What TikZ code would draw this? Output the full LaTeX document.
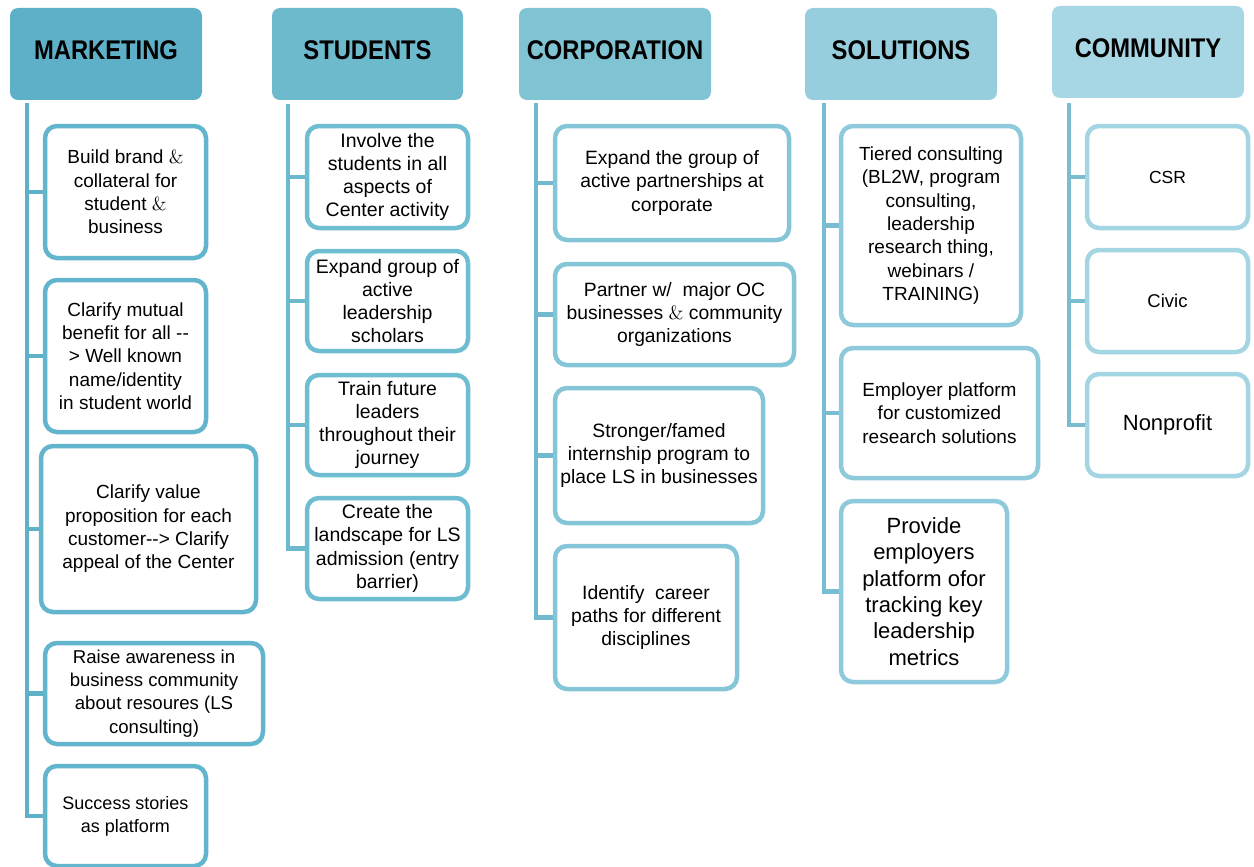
\documentclass[tikz,border=0pt]{standalone}
\usepackage{fontspec}
\setmainfont{Liberation Sans}
\newfontfamily\hdfont[FakeStretch=0.88]{Liberation Sans}
\newfontfamily\lmfont{lmroman10-regular.otf}
\newcommand{\amp}{{\lmfont\&}}
\newcommand{\fs}[2]{\fontsize{#1}{#2}\selectfont}
\definecolor{hdM}{HTML}{5DB0C8}
\definecolor{hdS}{HTML}{6DBACD}
\definecolor{hdC}{HTML}{80C3D3}
\definecolor{hdO}{HTML}{96CEDE}
\definecolor{hdK}{HTML}{A7D7E4}
\definecolor{bdM}{HTML}{62B5CC}
\definecolor{bdS}{HTML}{6EBDD1}
\definecolor{bdC}{HTML}{84C5D7}
\definecolor{bdO}{HTML}{8ECADB}
\definecolor{bdK}{HTML}{A4D5E2}
\definecolor{lnM}{HTML}{5FB1C8}
\definecolor{lnS}{HTML}{6CB9CD}
\definecolor{lnC}{HTML}{72B9CF}
\definecolor{lnO}{HTML}{78BDD1}
\definecolor{lnK}{HTML}{7ABCD0}
\tikzset{
  hdr/.style={fill=#1, draw=none, rounded corners=8, minimum width=192, minimum height=92,
    inner sep=0, text height=19, text depth=8, font=\hdfont\bfseries\fontsize{27}{30}\selectfont},
  ibox/.style={fill=white, draw=#1, line width=4.5, rounded corners=12, inner sep=0,
    align=center, font=\fs{19}{23.3}},
  conn/.style={draw=#1, line width=4.5},
}
\begin{document}
\begin{tikzpicture}[x=1pt,y=-1pt]
\useasboundingbox (0,0) rectangle (1254,867);

% headers
\node[hdr=hdM] (hm) at (106,54) {MARKETING};
\node[hdr=hdS, minimum width=191] (hs) at (367.5,54) {STUDENTS};
\node[hdr=hdC] (hc) at (615,54) {CORPORATION};
\node[hdr=hdO] (ho) at (901,54) {SOLUTIONS};
\node[hdr=hdK] (hk) at (1148,52) {COMMUNITY};

% connector tops
\coordinate (tm) at (27,103);
\coordinate (ts) at (288,104);
\coordinate (tc) at (536,103);
\coordinate (to) at (824,103);
\coordinate (tk) at (1069,103);

% marketing
\node[ibox=bdM, minimum width=161, minimum height=132] (m1) at (125.5,192)
  {Build brand \amp\\collateral for\\student \amp\\business};
\node[ibox=bdM, minimum width=161, minimum height=152] (m2) at (125.5,356)
  {Clarify mutual\\benefit for all -{}-\\> Well known\\name/identity\\in student world};
\node[ibox=bdM, minimum width=215, minimum height=166] (m3) at (148.5,529)
  {Clarify value\\proposition for each\\customer-{}-> Clarify\\appeal of the Center};
\node[ibox=bdM, minimum width=218, minimum height=101, font=\fs{18.6}{23.3}] (m4) at (154,693.5)
  {Raise awareness in\\business community\\about resoures (LS\\consulting)};
\node[ibox=bdM, minimum width=161, minimum height=100, font=\fs{18}{23.3}] (m5) at (125.5,816)
  {Success stories\\as platform};

% students
\node[ibox=bdS, minimum width=161, minimum height=102, font=\fs{19.5}{23.3}] (s1) at (387.5,177)
  {Involve the\\students in all\\aspects of\\Center activity};
\node[ibox=bdS, minimum width=161, minimum height=100, font=\fs{19.5}{23.3}] (s2) at (387.5,301)
  {Expand group of\\active\\leadership\\scholars};
\node[ibox=bdS, minimum width=161, minimum height=100, font=\fs{19.5}{23.3}] (s3) at (387.5,425)
  {Train future\\leaders\\throughout their\\journey};
\node[ibox=bdS, minimum width=161, minimum height=101, font=\fs{19.5}{23.3}] (s4) at (387.5,548.5)
  {Create the\\landscape for LS\\admission (entry\\barrier)};

% corporation
\node[ibox=bdC, minimum width=234, minimum height=114, font=\fs{19.3}{23.3}] (c1) at (672,183)
  {Expand the group of\\active partnerships at\\corporate};
\node[ibox=bdC, minimum width=239, minimum height=101, font=\fs{19.3}{23.3}] (c2) at (674.5,314.5)
  {Partner w/\ \ major OC\\businesses \amp{} community\\organizations};
\node[ibox=bdC, minimum width=208, minimum height=135, font=\fs{19.3}{23.3}] (c3) at (659,455.5)
  {Stronger/famed\\internship program to\\place LS in businesses};
\node[ibox=bdC, minimum width=182, minimum height=143, font=\fs{19.3}{23.3}] (c4) at (646,617.5)
  {Identify\ \ career\\paths for different\\disciplines};

% solutions
\node[ibox=bdO, minimum width=180, minimum height=199] (o1) at (931,225.5)
  {Tiered consulting\\(BL2W, program\\consulting,\\leadership\\research thing,\\webinars /\\TRAINING)};
\node[ibox=bdO, minimum width=197, minimum height=130] (o2) at (939.5,413)
  {Employer platform\\for customized\\research solutions};
\node[ibox=bdO, minimum width=166, minimum height=181, font=\fs{22}{26.4}] (o3) at (924,591.5)
  {Provide\\employers\\platform ofor\\tracking key\\leadership\\metrics};

% community
\node[ibox=bdK, minimum width=161, minimum height=102, font=\fs{17.5}{21}] (k1) at (1167.5,177) {CSR};
\node[ibox=bdK, minimum width=161, minimum height=102, font=\fs{18.5}{22}] (k2) at (1167.5,301) {Civic};
\node[ibox=bdK, minimum width=161, minimum height=102, font=\fs{22}{26}] (k3) at (1167.5,425) {Nonprofit};

% connectors
\foreach \b in {m1,m2,m3,m4,m5} \draw[conn=lnM] (tm) |- (\b.west);
\foreach \b in {s1,s2,s3,s4} \draw[conn=lnS] (ts) |- (\b.west);
\foreach \b in {c1,c2,c3,c4} \draw[conn=lnC] (tc) |- (\b.west);
\foreach \b in {o1,o2,o3} \draw[conn=lnO] (to) |- (\b.west);
\foreach \b in {k1,k2,k3} \draw[conn=lnK] (tk) |- (\b.west);
\end{tikzpicture}
\end{document}
